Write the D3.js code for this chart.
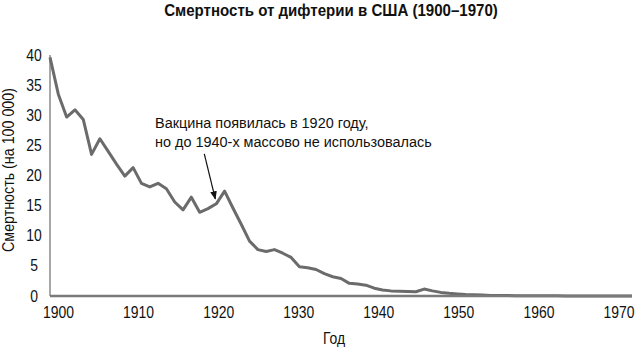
<!DOCTYPE html>
<html>
<head>
<meta charset="utf-8">
<script src="https://cdn.jsdelivr.net/npm/d3@7"></script>
<style>
  body { margin: 0; background: #fff; }
  svg { display: block; font-family: "Liberation Sans", Arial, sans-serif; }
</style>
</head>
<body>
<div class="vis-linechart"></div>
<script>
const years = [
  1900, 1901, 1902, 1903, 1904, 1905, 1906, 1907, 1908, 1909,
  1910, 1911, 1912, 1913, 1914, 1915, 1916, 1917, 1918, 1919,
  1920, 1921, 1922, 1923, 1924, 1925, 1926, 1927, 1928, 1929,
  1930, 1931, 1932, 1933, 1934, 1935, 1936, 1937, 1938, 1939,
  1940, 1941, 1942, 1943, 1944, 1945, 1946, 1947, 1948, 1949,
  1950, 1951, 1952, 1953, 1954, 1955, 1956, 1957, 1958, 1959,
  1960, 1961, 1962, 1963, 1964, 1965, 1966, 1967, 1968, 1969, 1970
];
const rates = [
  39.6, 33.5, 29.7, 30.9, 29.3, 23.5, 26.1, 24.0, 21.9, 19.9,
  21.3, 18.7, 18.1, 18.7, 17.8, 15.6, 14.3, 16.4, 13.9, 14.5,
  15.3, 17.4, 14.6, 11.9, 9.1, 7.7, 7.4, 7.7, 7.1, 6.4,
  4.85, 4.7, 4.4, 3.7, 3.2, 2.9, 2.1, 2.0, 1.8, 1.3,
  1.0, 0.85, 0.8, 0.75, 0.7, 1.15, 0.85, 0.6, 0.45, 0.35,
  0.25, 0.2, 0.15, 0.1, 0.08, 0.07, 0.06, 0.05, 0.05, 0.04,
  0.03, 0.03, 0.02, 0.02, 0.02, 0.02, 0.01, 0.01, 0.01, 0.01, 0.01
];
const xTicks = [1900, 1910, 1920, 1930, 1940, 1950, 1960, 1970];
const yTicks = [0, 5, 10, 15, 20, 25, 30, 35, 40];
const title = "Смертность от дифтерии в США (1900–1970)";
const yTitle = "Смертность (на 100 000)";
const xTitle = "Год";
const note = ["Вакцина появилась в 1920 году,", "но до 1940-х массово не использовалась"];
const noteYear = 1920;

const width = 637, height = 347;
const svg = d3.select(".vis-linechart").append("svg")
  .attr("width", width).attr("height", height);

const x = d3.scaleLinear().domain([1900, 1970]).range([50, 632]);
// tick labels sit a bit to the right of the data positions in the original
const xLab = d3.scaleLinear().domain([1900, 1970]).range([58.5, 619]);
const y = d3.scaleLinear().domain([0, 40]).range([296, 55]);

const data = years.map((yr, i) => ({ year: yr, rate: rates[i] }));

// the original uses a condensed face, so squeeze the regular one horizontally
const squeeze = (sel, target) => target / sel.node().getComputedTextLength();

const t = svg.append("text")
  .attr("text-anchor", "middle")
  .attr("font-weight", "bold")
  .attr("font-size", 17)
  .attr("fill", "#111")
  .text(title);
t.attr("transform", "translate(331,16) scale(" + squeeze(t, 334) + ",1)");

// tick label squeeze measured on one label
const probe = svg.append("text").attr("font-size", 16).text("1900");
const kTick = squeeze(probe, 31);
probe.remove();

svg.append("line")
  .attr("x1", x(1900)).attr("x2", x(1900))
  .attr("y1", y(40)).attr("y2", y(0))
  .attr("stroke", "#8a8a8a").attr("stroke-width", 1.5);

svg.selectAll(".ylab").data(yTicks).enter().append("text")
  .attr("class", "ylab")
  .attr("transform", d => "translate(34," + y(d) + ") scale(" + kTick + ",1)")
  .attr("dy", "0.35em")
  .attr("text-anchor", "middle")
  .attr("font-size", 16)
  .attr("fill", "#111")
  .text(d => d);

svg.selectAll(".xlab").data(xTicks).enter().append("text")
  .attr("class", "xlab")
  .attr("transform", d => "translate(" + xLab(d) + ",318) scale(" + kTick + ",1)")
  .attr("text-anchor", "middle")
  .attr("font-size", 16)
  .attr("fill", "#111")
  .text(d => d);

const yt = svg.append("text")
  .attr("text-anchor", "middle")
  .attr("font-size", 16)
  .attr("fill", "#111")
  .text(yTitle);
yt.attr("transform", "translate(14,170) rotate(-90) scale(" + squeeze(yt, 164) + ",1)");

svg.append("text")
  .attr("transform", "translate(334,344) scale(" + kTick + ",1)")
  .attr("text-anchor", "middle")
  .attr("font-size", 16)
  .attr("fill", "#111")
  .text(xTitle);

// the line
svg.append("path")
  .datum(data)
  .attr("fill", "none")
  .attr("stroke", "#6b6b6b")
  .attr("stroke-width", 3)
  .attr("stroke-linejoin", "round")
  .attr("d", d3.line().x(d => x(d.year)).y(d => y(d.rate)));

svg.append("line")
  .attr("x1", x(1900)).attr("x2", x(1970))
  .attr("y1", y(0)).attr("y2", y(0))
  .attr("stroke", "#7a7a7a").attr("stroke-width", 2.5);

// annotation
svg.append("defs").append("marker")
  .attr("id", "arr")
  .attr("viewBox", "0 0 10 10")
  .attr("refX", 9).attr("refY", 5)
  .attr("markerWidth", 7).attr("markerHeight", 7)
  .attr("orient", "auto")
  .append("path").attr("d", "M0,1L10,5L0,9Z").attr("fill", "#111");

const noteRate = rates[years.indexOf(noteYear)];
const tipX = x(noteYear) - 1, tipY = y(noteRate) - 5;
svg.append("line")
  .attr("x1", tipX - 11).attr("y1", tipY - 45)
  .attr("x2", tipX).attr("y2", tipY)
  .attr("stroke", "#111").attr("stroke-width", 1.2)
  .attr("marker-end", "url(#arr)");

const notes = svg.selectAll(".note").data(note).enter().append("text")
  .attr("class", "note")
  .attr("font-size", 15.5)
  .attr("fill", "#111")
  .text(d => d);
const kNote = squeeze(d3.select(notes.nodes()[1]), 277);
notes.attr("transform", (d, i) => "translate(155," + (128 + i * 19) + ") scale(" + kNote + ",1)");
</script>
</body>
</html>
